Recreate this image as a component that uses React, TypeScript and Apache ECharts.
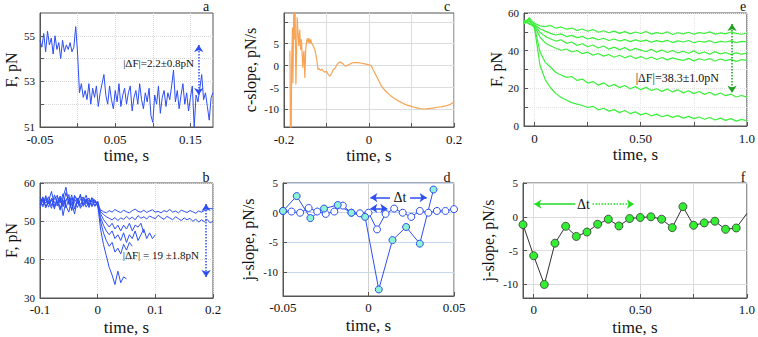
import React, { useEffect, useRef } from 'react';
import * as echarts from 'echarts';

const FONT = 'Liberation Serif';
const BLUE = '#2d4ef3';
const GREEN = '#3cf03c';

// ---------- panel a : F (pN) vs time (s), sampled every 0.0025 s from -0.05 ----------
const aStart = -0.05;
const aStep = 0.0025;
const aForce = [
  54.8, 54.5, 55.1, 54.3, 55.2, 54.6, 54.9, 54.2, 55.0, 54.4, 54.7, 54.0, 54.8, 54.3, 54.6, 54.4, 54.7, 54.3, 54.5, 55.4,
  54.2, 52.5, 52.9, 52.3, 52.6, 52.2, 52.9, 52.0, 52.7, 52.3, 52.8, 51.9, 52.5, 52.9, 53.3, 52.4, 52.0, 52.8, 52.2, 51.8,
  52.6, 52.1, 52.9, 51.9, 52.4, 52.7, 52.0, 52.5, 52.8, 51.7, 52.3, 52.6, 52.0, 52.9, 52.2, 51.8, 52.5, 52.1, 52.7, 51.5,
  51.2, 52.4, 52.0, 52.8, 51.6, 52.3, 52.6, 51.9, 52.5, 52.2, 52.8, 53.5, 52.1, 52.6, 51.8, 52.4, 52.9, 52.0, 52.5, 51.7,
  52.3, 52.8, 51.0, 52.4, 52.1, 52.7, 53.3, 52.2, 52.5, 51.9, 51.3, 52.3, 52.5,
];

// ---------- panel b : six force traces, sampled every 0.005 s from -0.1 ----------
const bStart = -0.1;
const bStep = 0.005;
const bForce1 = [
  55.5, 53.8, 56.2, 54.5, 55.8, 53.2, 56.5, 54.8, 57.2, 53.5, 55.9, 54.2, 56.8, 55.1, 53.9, 56.2, 54.6, 55.7, 53.8, 55.2, 54.5,
  48, 44, 41, 38, 36, 33.5, 37, 34, 35.5, 35,
];
const bForce2 = [
  54.2, 56.1, 53.5, 55.4, 57.8, 54.1, 55.2, 52.9, 56.3, 58.9, 54.4, 56.9, 53.2, 55.5, 56.7, 54.3, 55.9, 54.1, 56.2, 54.8, 55.1,
  50, 47, 45, 43.5, 44.5, 42, 43, 41.5, 44, 42.5, 44.5, 43.5,
];
const bForce3 = [
  56.3, 54.9, 55.6, 53.7, 56.0, 55.1, 54.0, 56.6, 51.5, 55.3, 57.0, 52.8, 55.8, 54.6, 57.1, 53.9, 55.3, 56.1, 54.2, 55.5, 54.0,
  51, 49, 47.5, 46.5, 47.5, 45.5, 46.5, 45, 47, 44.5, 46.5, 45.5, 47.5, 45, 46.5, 48, 45.5, 47, 45.5, 46.5,
];
const bForce4 = [
  53.6, 55.7, 54.8, 56.4, 54.1, 55.9, 56.8, 53.3, 55.5, 54.0, 52.4, 56.1, 54.9, 53.6, 55.8, 56.3, 53.7, 55.0, 55.8, 53.9, 54.6,
  52, 50.5, 49.5, 48.5, 49.5, 48, 49, 47.5, 49, 48, 49.5, 47.5, 49, 48.5, 49.5, 47,
];
const bForce5 = [
  55.0, 54.3, 56.7, 55.2, 53.4, 56.9, 54.6, 55.8, 54.2, 57.5, 55.0, 53.1, 56.4, 55.9, 54.5, 55.2, 56.8, 54.4, 55.3, 54.1, 55.3,
  52.5, 51.8, 51.2, 50.8, 50.4, 51.0, 50.2, 50.9, 50.5, 51.3, 50.6, 51.1, 50.4, 51.5, 50.8, 51.2, 50.6, 51.4, 51.0, 50.7,
  51.6, 51.0, 50.5, 51.3, 50.9, 50.4, 51.2, 50.7, 50.2, 50.9, 50.4, 50.8, 50.0, 50.6, 49.8, 50.4, 49.9, 50.5, 49.6, 50.0,
];
const bForce6 = [
  54.7, 56.4, 53.9, 55.1, 55.6, 53.7, 55.4, 56.2, 53.8, 55.7, 56.3, 54.9, 51.9, 56.0, 53.4, 54.8, 55.5, 53.6, 56.0, 55.6, 54.2,
  53.0, 52.5, 52.2, 52.8, 52.4, 53.1, 52.6, 52.3, 52.9, 52.5, 52.2, 52.8, 53.2, 52.6, 52.4, 52.9, 52.3, 52.7, 53.0, 52.4,
  52.6, 52.2, 52.8, 52.5, 53.1, 52.4, 52.7, 52.2, 52.9, 52.6, 52.3, 52.8, 52.5, 52.1, 52.7, 52.4, 52.8, 53.0, 53.4, 53.2,
];

// ---------- panel c : c-slope (pN/s) ----------
const cTime = [
  -0.186, -0.185, -0.183, -0.182, -0.18, -0.179, -0.177, -0.176, -0.174, -0.172, -0.17, -0.169, -0.167, -0.165, -0.163,
  -0.161, -0.159, -0.157, -0.156, -0.154, -0.153, -0.151, -0.149, -0.147, -0.145, -0.143, -0.141, -0.139, -0.137, -0.135,
  -0.131, -0.127, -0.123, -0.12, -0.117, -0.114, -0.111, -0.108, -0.104, -0.1, -0.096, -0.092, -0.088, -0.084, -0.08,
  -0.076, -0.072, -0.068, -0.064, -0.06, -0.056, -0.052, -0.048, -0.044, -0.04, -0.035, -0.03, -0.025, -0.02, -0.015,
  -0.01, -0.005, 0, 0.005, 0.01, 0.02, 0.03, 0.04, 0.05, 0.06, 0.07, 0.08, 0.09, 0.1, 0.11, 0.12, 0.13, 0.14, 0.15,
  0.16, 0.17, 0.18, 0.19, 0.2,
];
const cSlope = [
  3.4, -15, -15, 1, 8.7, -4, 13, 6, 13, -4.3, 5, 11, 7.5, 4.5, 8.2,
  3.6, 6, 2, -0.5, 2.5, 3.4, -2.8, 3.4, 5.5, 6.2, 5.2, 6.3, 5.0, 6.0, 5.1,
  4.5, 3.5, 1.5, -0.9, -0.7, -1.1, -0.8, -1.2, -1.5, -1.3, -2.0, -2.4, -1.8, -0.9, -0.6,
  0.1, 0.6, 0.9, 0.6, 0.3, -0.1, 0.0, 0.2, 0.4, 0.6, 0.7, 0.7, 0.7, 0.6, 0.5,
  0.4, 0.3, 0.2, 0.0, -1.0, -2.9, -4.8, -5.9, -6.8, -7.5, -8.1, -8.6, -9.0, -9.3, -9.6, -9.8, -9.9, -9.8, -9.7,
  -9.5, -9.4, -9.2, -8.9, -8.3,
];

// ---------- panel d : j-slope (pN/s) ----------
const dTimeOpen = [
  -0.05, -0.045, -0.04, -0.035, -0.03, -0.025, -0.02, -0.015, -0.01, -0.005, 0, 0.005, 0.01, 0.015, 0.02, 0.025, 0.03,
  0.035, 0.04, 0.045, 0.05,
];
const dSlopeOpen = [0.3, 0.2, 0, 0.8, 0.2, -0.2, 0.2, 1.2, 0, -0.1, 0, -2.8, -0.2, 0.7, 0, -0.7, 0.3, 0, 0.3, 0.3, 0.6];
const dTimeFilled = [-0.05, -0.042, -0.034, -0.026, -0.018, -0.01, -0.002, 0.006, 0.014, 0.022, 0.03, 0.038];
const dSlopeFilled = [0.3, 2.8, -0.9, 0.7, 1.3, 0, -0.7, -12.9, -4.6, -2.4, -5.2, 3.9];

// ---------- panel e : six force traces, sampled every 0.025 s from -0.05 ----------
const eStart = -0.05;
const eStep = 0.025;
const eForce1 = [55.5, 56.8, 54.5, 53.2, 52.8, 53.4, 51.9, 52.6, 51.4, 52.0, 50.8, 51.5, 50.3, 51.2, 49.8, 50.6, 49.5, 50.4, 49.2, 50.1, 48.9, 49.9, 49.1, 50.2, 48.8, 49.6, 49.0, 50.0, 48.6, 49.5, 48.9, 49.8, 48.7, 49.6, 49.1, 50.0, 48.8, 49.4, 48.9, 49.9, 49.2, 48.7, 49.3];
const eForce2 = [54.2, 57.5, 53.8, 51.6, 50.4, 49.2, 48.3, 48.9, 47.5, 48.1, 46.9, 47.6, 46.2, 46.9, 45.8, 46.6, 45.4, 46.2, 45.1, 45.9, 44.8, 45.7, 44.9, 45.6, 44.5, 45.3, 44.7, 45.5, 44.3, 45.2, 44.6, 45.4, 44.2, 45.0, 44.5, 45.3, 44.1, 44.9, 44.6, 45.2, 44.3, 44.9, 44.7];
const eForce3 = [56.1, 54.0, 53.5, 49.8, 47.6, 46.2, 45.1, 45.8, 43.9, 44.6, 42.8, 43.7, 42.1, 43.0, 41.4, 42.5, 40.8, 41.9, 40.5, 41.6, 40.1, 41.2, 40.3, 39.4, 40.8, 39.2, 40.4, 39.0, 40.1, 38.8, 39.7, 38.6, 39.9, 38.4, 39.3, 38.1, 39.5, 38.3, 39.0, 37.9, 38.8, 38.2, 38.7];
const eForce4 = [54.8, 55.9, 52.9, 47.2, 44.1, 42.6, 41.3, 40.2, 40.9, 39.3, 40.1, 38.4, 39.2, 37.6, 38.5, 37.1, 38.0, 36.5, 37.6, 36.2, 37.3, 35.8, 36.9, 35.6, 36.6, 35.3, 36.4, 35.1, 36.2, 35.4, 34.8, 35.9, 34.6, 35.7, 34.9, 35.8, 34.5, 35.6, 34.7, 35.4, 34.3, 35.2, 34.8];
const eForce5 = [55.2, 54.6, 52.4, 39.5, 33.8, 31.2, 28.4, 27.1, 25.8, 26.3, 24.2, 24.9, 22.8, 23.6, 21.7, 22.9, 21.0, 22.1, 20.4, 21.5, 19.8, 20.9, 19.3, 20.5, 18.9, 19.8, 18.4, 19.6, 18.1, 19.2, 17.6, 18.7, 17.2, 18.3, 16.8, 17.9, 16.4, 17.5, 16.1, 16.9, 15.4, 16.2, 15.3];
const eForce6 = [54.3, 56.0, 51.8, 32.4, 24.6, 20.3, 17.2, 15.1, 13.8, 12.4, 11.6, 10.9, 9.8, 10.5, 8.6, 9.4, 7.9, 8.7, 7.1, 8.2, 6.6, 7.5, 5.9, 6.8, 5.4, 6.3, 4.9, 5.8, 4.6, 5.5, 4.2, 5.1, 3.9, 4.8, 3.6, 4.5, 3.2, 4.2, 3.0, 3.9, 2.6, 3.5, 2.8];

// ---------- panel f : j-slope (pN/s) ----------
const fTime = [-0.05, 0, 0.05, 0.1, 0.15, 0.2, 0.25, 0.3, 0.35, 0.4, 0.45, 0.5, 0.55, 0.6, 0.65, 0.7, 0.75, 0.8, 0.85, 0.9, 0.95, 1.0];
const fSlope = [-1.15, -5.75, -10, -3.9, -1.4, -2.9, -2.25, -1.1, -0.35, -1.35, -0.25, -0.1, 0, -0.35, -1.6, 1.5, -1.25, -0.9, -0.65, -1.85, -1.65, 0.5];

// ---------- axis ticks / labels ----------
const aXTicks = [-0.05, 0, 0.05, 0.1, 0.15];
const aXLabels = [-0.05, 0.05, 0.15];
const aYTicks = [51, 52, 53, 54, 55];
const aYLabels = [51, 53, 55];
const bXTicks = [-0.1, 0, 0.1, 0.2];
const bYTicks = [30, 40, 50, 60];
const cXTicks = [-0.2, -0.1, 0, 0.1, 0.2];
const cXLabels = [-0.2, 0, 0.2];
const cYTicks = [-10, -5, 0, 5, 10];
const cYLabels = [-10, -5, 0, 5];
const dXTicks = [-0.05, 0, 0.05];
const dYTicks = [-10, -5, 0, 5];
const eXTicks = [0, 0.25, 0.5, 0.75, 1.0];
const eXLabels = [0, 0.5, 1.0];
const eYTicks = [0, 10, 20, 30, 40, 50, 60];
const eYLabels = [0, 20, 40, 60];
const fYTicks = [-10, -5, 0, 5];

const regular = (vals: number[], start: number, step: number) =>
  vals.map((v, i) => [Number((start + step * i).toFixed(5)), v]);
const paired = (xs: number[], ys: number[]) => xs.map((x, i) => [x, ys[i]]);

const efFmt = (v: number) => (v === 0 ? '0' : v === 0.5 ? '0.50' : v === 1 ? '1.0' : String(v));

function xAxis(gridIndex: number, min: number, max: number, ticks: number[], labels: number[], gap: number, margin: number, fmt?: (v: number) => string, grid?: any) {
  return {
    type: 'value', gridIndex, min, max,
    name: 'time, s', nameLocation: 'middle', nameGap: gap,
    nameTextStyle: { fontFamily: FONT, fontSize: 17, color: '#111', fontWeight: 'normal' },
    axisLine: { show: true, onZero: false, lineStyle: { color: '#555' } },
    axisTick: { show: true, inside: true, length: 4, customValues: ticks, lineStyle: { color: '#555' } },
    axisLabel: { customValues: labels, formatter: fmt || ((v: number) => String(v)), fontFamily: FONT, fontSize: 13, color: '#111', margin },
    splitLine: { show: true, lineStyle: grid || { color: '#d8d8d8', type: 'dotted' } },
  };
}
function yAxis(gridIndex: number, name: string, min: number, max: number, ticks: number[], labels: number[], gap: number, grid?: any) {
  return {
    type: 'value', gridIndex, min, max,
    name, nameLocation: 'middle', nameGap: gap,
    nameTextStyle: { fontFamily: FONT, fontSize: 16, color: '#111', fontWeight: 'normal' },
    axisLine: { show: true, onZero: false, lineStyle: { color: '#555' } },
    axisTick: { show: true, inside: true, length: 4, customValues: ticks, lineStyle: { color: '#555' } },
    axisLabel: { customValues: labels, fontFamily: FONT, fontSize: 11, color: '#111', margin: 5 },
    splitLine: { show: true, lineStyle: grid || { color: '#d8d8d8', type: 'dotted' } },
  };
}

function textPoint(coord: number[], text: string, color: string, fontSize: number, position: string) {
  return {
    coord, symbol: 'circle', symbolSize: 1, itemStyle: { color: 'rgba(0,0,0,0)' },
    label: { show: true, formatter: text, position, distance: 2, color, fontSize, fontFamily: FONT },
  };
}

function lineSeries(x: number, data: any[], color: string, width = 1, extra: any = {}) {
  return {
    type: 'line', xAxisIndex: x, yAxisIndex: x, data, showSymbol: false, symbol: 'none',
    lineStyle: { color, width }, itemStyle: { color }, silent: true, ...extra,
  };
}

export default function App() {
  const ref = useRef<HTMLDivElement>(null);
  useEffect(() => {
    if (!ref.current) return;
    const chart = echarts.init(ref.current, undefined, { renderer: 'svg' });
    const gridBox = { show: true, borderColor: '#555', borderWidth: 1, backgroundColor: 'transparent' };
    const bSeries = [bForce1, bForce2, bForce3, bForce4, bForce5, bForce6];
    const eSeries = [eForce1, eForce2, eForce3, eForce4, eForce5, eForce6];
    const option: any = {
      animation: false,
      textStyle: { fontFamily: FONT },
      grid: [
        { left: 40, top: 13, width: 173, height: 114, ...gridBox },
        { left: 40, top: 183, width: 173, height: 115, ...gridBox },
        { left: 284, top: 13, width: 170, height: 114, ...gridBox },
        { left: 283, top: 183, width: 171, height: 113, ...gridBox },
        { left: 524, top: 13, width: 226, height: 113, ...gridBox },
        { left: 523, top: 183, width: 227, height: 115, ...gridBox },
      ],
      xAxis: [
        xAxis(0, -0.05, 0.18, aXTicks, aXLabels, 13, 6),
        xAxis(1, -0.1, 0.2, bXTicks, bXTicks, 21, 5),
        xAxis(2, -0.2, 0.2, cXTicks, cXLabels, 13, 6, undefined, { color: '#dcdcdc', type: 'solid' }),
        xAxis(3, -0.05, 0.05, dXTicks, dXTicks, 21, 5, undefined, { color: '#d0d0d0', type: 'solid' }),
        xAxis(4, -0.05, 1.0, eXTicks, eXLabels, 13, 6, efFmt, { color: '#e4e4e4', type: 'dotted' }),
        xAxis(5, -0.05, 1.0, eXTicks, eXLabels, 21, 5, efFmt, { color: '#dcdcdc', type: 'solid' }),
      ],
      yAxis: [
        yAxis(0, 'F, pN', 51, 56, aYTicks, aYLabels, 21),
        yAxis(1, 'F, pN', 30, 60, bYTicks, bYTicks, 21),
        yAxis(2, 'c-slope, pN/s', -14, 12, cYTicks, cYLabels, 26, { color: '#dcdcdc', type: 'solid' }),
        yAxis(3, 'j-slope, pN/s', -14, 5, dYTicks, dYTicks, 27, { color: '#c9d6f2', type: 'solid' }),
        yAxis(4, 'F, pN', 0, 60, eYTicks, eYLabels, 15, { color: '#e4e4e4', type: 'dotted' }),
        yAxis(5, 'j-slope, pN/s', -12, 5, fYTicks, fYTicks, 27, { color: '#dcdcdc', type: 'solid' }),
      ],
      series: [
        lineSeries(0, regular(aForce, aStart, aStep), BLUE, 1, {
          markLine: {
            silent: true, symbol: ['arrow', 'arrow'], symbolSize: 7, label: { show: false },
            lineStyle: { color: BLUE, type: 'dotted', width: 1.5 },
            data: [[{ coord: [0.161, 54.6] }, { coord: [0.161, 52.4] }]],
          },
          markPoint: { silent: true, data: [textPoint([0.158, 53.8], '|ΔF|=2.2±0.8pN', '#111', 11, 'left')] },
        }),
        ...bSeries.map((vals, k) =>
          lineSeries(1, regular(vals, bStart, bStep), BLUE, 1,
            k === 5
              ? {
                  markLine: {
                    silent: true, symbol: ['arrow', 'arrow'], symbolSize: 7, label: { show: false },
                    lineStyle: { color: BLUE, type: 'dotted', width: 1.5 },
                    data: [[{ coord: [0.188, 54.5] }, { coord: [0.188, 35.5] }]],
                  },
                  markPoint: { silent: true, data: [textPoint([0.18, 41.2], '|ΔF| = 19 ±1.8pN', '#111', 11, 'left')] },
                }
              : {})
        ),
        lineSeries(2, paired(cTime, cSlope), '#f7a454', 1.2),
        {
          type: 'line', xAxisIndex: 3, yAxisIndex: 3, data: paired(dTimeOpen, dSlopeOpen),
          symbol: 'circle', symbolSize: 7, showSymbol: true, silent: true,
          lineStyle: { color: BLUE, width: 1 },
          itemStyle: { color: '#ffffff', borderColor: BLUE, borderWidth: 1 },
        },
        {
          type: 'line', xAxisIndex: 3, yAxisIndex: 3, data: paired(dTimeFilled, dSlopeFilled),
          symbol: 'circle', symbolSize: 7, showSymbol: true, silent: true,
          lineStyle: { color: BLUE, width: 1 },
          itemStyle: { color: '#8ef2d6', borderColor: BLUE, borderWidth: 1 },
          markLine: {
            silent: true, symbolSize: 7, label: { show: false },
            lineStyle: { color: BLUE, type: 'solid', width: 1.5 },
            data: [
              [{ coord: [0.0126, 2.55], symbol: 'none' }, { coord: [0.0011, 2.55], symbol: 'arrow' }],
              [{ coord: [0.0243, 2.55], symbol: 'none' }, { coord: [0.034, 2.55], symbol: 'arrow' }],
              [{ coord: [0.0011, 0.72], symbol: 'arrow' }, { coord: [0.011, 0.72], symbol: 'arrow' }],
            ],
          },
          markPoint: { silent: true, data: [textPoint([0.0184, 2.55], 'Δt', '#111', 14, 'inside')] },
        },
        ...eSeries.map((vals, k) =>
          lineSeries(4, regular(vals, eStart, eStep), GREEN, 1.2,
            k === 5
              ? {
                  markLine: {
                    silent: true, symbol: ['arrow', 'arrow'], symbolSize: 7, label: { show: false },
                    lineStyle: { color: '#1f9f1f', type: 'dotted', width: 1.5 },
                    data: [[{ coord: [0.93, 54.2] }, { coord: [0.93, 17.6] }]],
                  },
                  markPoint: { silent: true, data: [textPoint([0.88, 25.4], '|ΔF|=38.3±1.0pN', '#111', 12, 'left')] },
                }
              : {})
        ),
        {
          type: 'line', xAxisIndex: 5, yAxisIndex: 5,
          data: paired(fTime, fSlope).map((p, i) => (i === fTime.length - 1 ? { value: p, symbol: 'none' } : p)),
          symbol: 'circle', symbolSize: 8, showSymbol: true, silent: true,
          lineStyle: { color: '#333', width: 1 },
          itemStyle: { color: '#33ee33', borderColor: '#333', borderWidth: 0.8 },
          markLine: {
            silent: true, symbolSize: 7, label: { show: false },
            lineStyle: { color: '#22dd22', width: 1.5 },
            data: [
              [{ coord: [0.195, 1.87], symbol: 'none', lineStyle: { type: 'solid' } }, { coord: [0.003, 1.87], symbol: 'arrow' }],
              [{ coord: [0.276, 1.87], symbol: 'none', lineStyle: { type: 'dotted' } }, { coord: [0.47, 1.87], symbol: 'arrow' }],
            ],
          },
          markPoint: { silent: true, data: [textPoint([0.234, 1.87], 'Δt', '#111', 14, 'inside')] },
        },
      ],
      graphic: [
        ['a', 206, 6], ['b', 206, 177], ['c', 447, 6], ['d', 447, 177], ['e', 743, 6], ['f', 743, 177],
      ].map(([t, x, y]) => ({
        type: 'text', x, y,
        style: { text: t, fontFamily: FONT, fontSize: 14, fill: '#111', textAlign: 'center', textVerticalAlign: 'middle' },
      })),
    };
    chart.setOption(option);
    return () => chart.dispose();
  }, []);
  return <div ref={ref} style={{ position: 'absolute', left: 0, top: 0, width: 758, height: 337 }} />;
}
